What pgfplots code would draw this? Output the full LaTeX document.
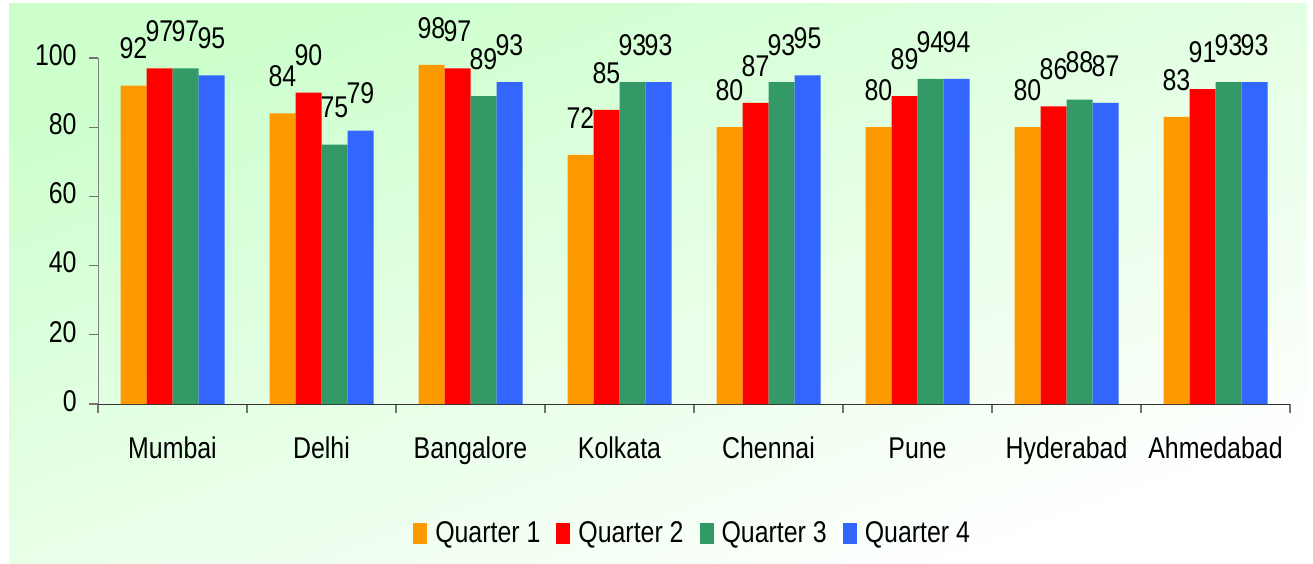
\documentclass[border=0pt]{standalone}
\usepackage{pgfplots}
\pgfplotsset{compat=1.18}
\usepackage{fontspec}
\setmainfont{Liberation Sans}[FakeStretch=0.83]
\newcommand\chartfont{\fontsize{15}{18}\selectfont}
\definecolor{q1}{HTML}{FF9900}
\definecolor{q2}{HTML}{FF0000}
\definecolor{q3}{HTML}{339966}
\definecolor{q4}{HTML}{3366FF}
\definecolor{bgtop}{HTML}{CCFFCC}

\begin{document}
\begin{tikzpicture}
\path[use as bounding box] (0pt,0pt) rectangle (656.5pt,281.5pt);
\shade[top color=bgtop, bottom color=white, shading angle=20]
  (4.5pt,0pt) rectangle (653.5pt,279.5pt);
\begin{axis}[
  at={(49pt,79.5pt)}, anchor=south west,
  scale only axis, width=596pt, height=173pt,
  xmin=-0.5, xmax=7.5, ymin=0, ymax=100,
  /pgf/number format/assume math mode=true,
  ybar=0pt, bar width=13pt,
  legend image code/.code={\fill[#1] (0pt,-5.25pt) rectangle (7pt,5.25pt);},
  axis x line*=bottom, axis y line*=left,
  axis line style={-},
  x axis line style={black!80},
  y axis line style={black!50},
  tick align=outside, major tick length=4.5pt,
  tick style={black!55, line width=0.6pt},
  xtick={-0.5,0.5,...,7.5}, xticklabels={},
  extra x ticks={0,1,2,3,4,5,6,7},
  extra x tick labels={Mumbai,Delhi,Bangalore,Kolkata,Chennai,Pune,Hyderabad,Ahmedabad},
  extra x tick style={major tick length=0pt,
    xticklabel style={anchor=base, yshift=-27pt}},
  ytick={0,20,40,60,80,100},
  yticklabel style={anchor=east, inner sep=0pt, xshift=-6pt, yshift=1.5pt},
  tick label style={font=\chartfont, text=black},
  clip=false,
  nodes near coords,
  every node near coord/.append style={font=\chartfont, text=black,
    anchor=south, inner sep=0pt, yshift=13pt},
  legend columns=4,
  legend style={at={(0.498,-0.373)}, anchor=center, draw=none, fill=none,
    font=\chartfont, inner sep=0pt, nodes={inner sep=0pt},
    /tikz/every odd column/.append style={column sep=4pt},
    /tikz/every even column/.append style={column sep=8pt}},
  legend cell align=left,
]
\addplot[draw=none, fill=q1] coordinates {(0,92) (1,84) (2,98) (3,72) (4,80) (5,80) (6,80) (7,83)};
\addplot[draw=none, fill=q2] coordinates {(0,97) (1,90) (2,97) (3,85) (4,87) (5,89) (6,86) (7,91)};
\addplot[draw=none, fill=q3] coordinates {(0,97) (1,75) (2,89) (3,93) (4,93) (5,94) (6,88) (7,93)};
\addplot[draw=none, fill=q4] coordinates {(0,95) (1,79) (2,93) (3,93) (4,95) (5,94) (6,87) (7,93)};
\legend{Quarter 1,Quarter 2,Quarter 3,Quarter 4}
\end{axis}
\end{tikzpicture}
\end{document}
